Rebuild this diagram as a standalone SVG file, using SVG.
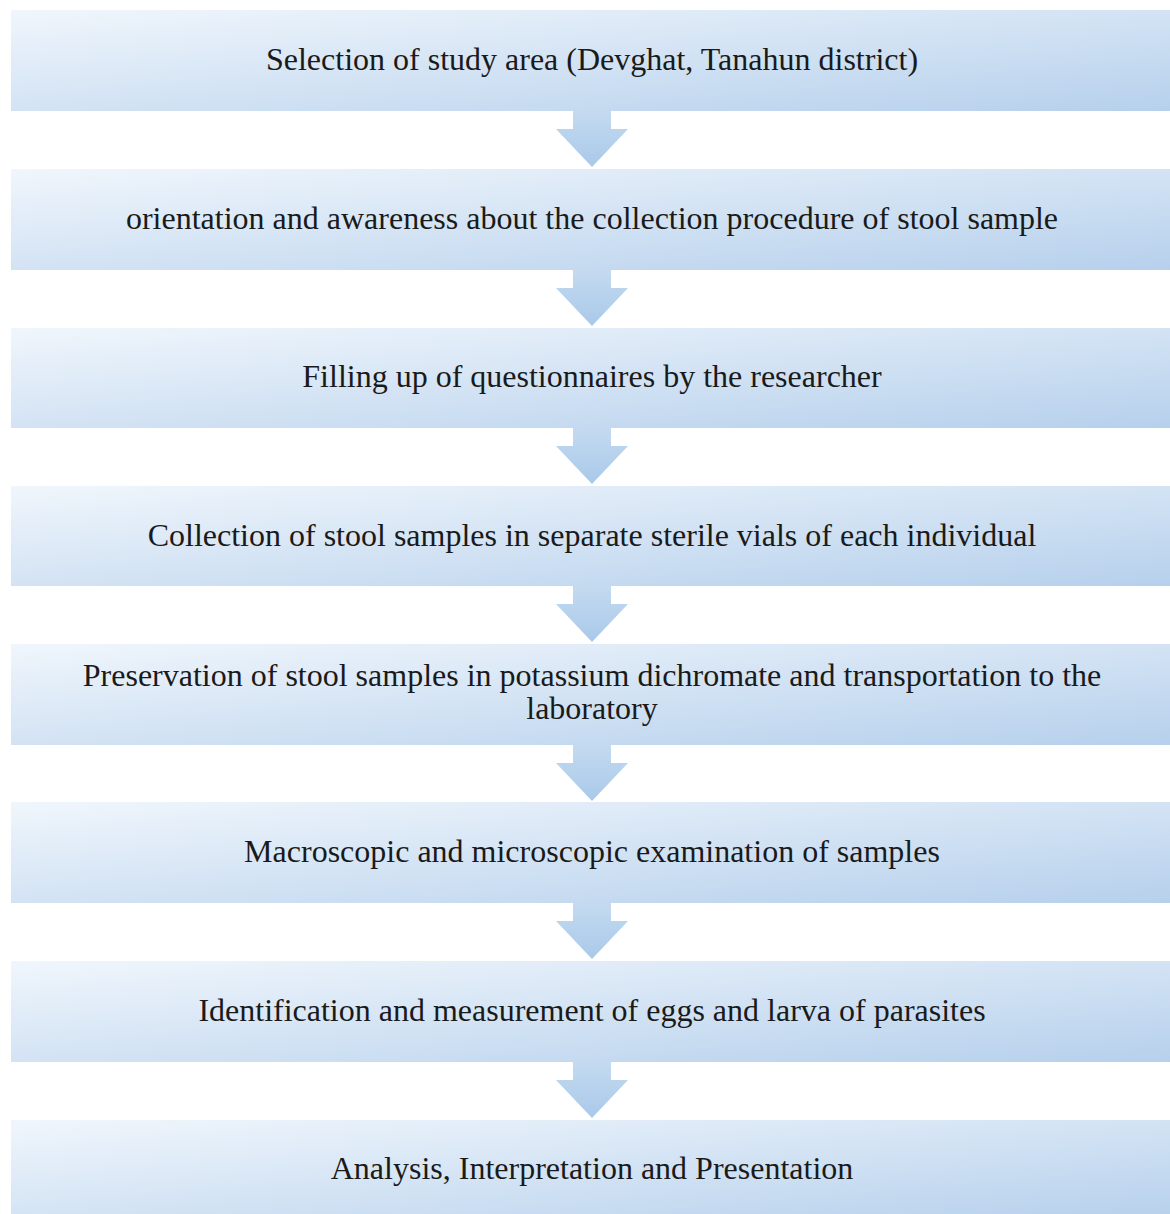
<svg xmlns="http://www.w3.org/2000/svg" width="1170" height="1214" viewBox="0 0 1170 1214">
<defs>
<linearGradient id="bg" x1="0" y1="0" x2="1" y2="1">
<stop offset="0" stop-color="#f0f6fc"/>
<stop offset="0.5" stop-color="#d3e3f4"/>
<stop offset="1" stop-color="#b6d0ec"/>
</linearGradient>
<linearGradient id="ag" x1="0" y1="0" x2="0" y2="1">
<stop offset="0" stop-color="#c4daf0"/>
<stop offset="1" stop-color="#a9c9e9"/>
</linearGradient>
<style>
.box{fill:url(#bg);}
.arr{fill:url(#ag);}
.t{font-family:"Liberation Serif","Times New Roman",serif;font-size:32px;fill:#1a1a1a;text-anchor:middle;}
</style>
</defs>
<rect width="1170" height="1214" fill="#ffffff"/>
<g id="connectors">
<polygon class="arr" points="573,111 611,111 611,129 628,129 592,167 556,129 573,129"/>
<polygon class="arr" points="573,270 611,270 611,288 628,288 592,326 556,288 573,288"/>
<polygon class="arr" points="573,428 611,428 611,446 628,446 592,484 556,446 573,446"/>
<polygon class="arr" points="573,586 611,586 611,604 628,604 592,642 556,604 573,604"/>
<polygon class="arr" points="573,745 611,745 611,763 628,763 592,801 556,763 573,763"/>
<polygon class="arr" points="573,903 611,903 611,921 628,921 592,959 556,921 573,921"/>
<polygon class="arr" points="573,1062 611,1062 611,1080 628,1080 592,1118 556,1080 573,1080"/>
</g>
<g id="n1"><rect class="box" x="11" y="10" width="1165" height="101"/><text class="t" x="592" y="70">Selection of study area (Devghat, Tanahun district)</text></g>
<g id="n2"><rect class="box" x="11" y="169" width="1165" height="101"/><text class="t" x="592" y="229">orientation and awareness about the collection procedure of stool sample</text></g>
<g id="n3"><rect class="box" x="11" y="328" width="1165" height="100"/><text class="t" x="592" y="387">Filling up of questionnaires by the researcher</text></g>
<g id="n4"><rect class="box" x="11" y="486" width="1165" height="100"/><text class="t" x="592" y="546">Collection of stool samples in separate sterile vials of each individual</text></g>
<g id="n5"><rect class="box" x="11" y="644" width="1165" height="101"/><text class="t" x="592" y="686">Preservation of stool samples in potassium dichromate and transportation to the</text><text class="t" x="592" y="719">laboratory</text></g>
<g id="n6"><rect class="box" x="11" y="802" width="1165" height="101"/><text class="t" x="592" y="862">Macroscopic and microscopic examination of samples</text></g>
<g id="n7"><rect class="box" x="11" y="961" width="1165" height="101"/><text class="t" x="592" y="1021">Identification and measurement of eggs and larva of parasites</text></g>
<g id="n8"><rect class="box" x="11" y="1120" width="1165" height="100"/><text class="t" x="592" y="1179">Analysis, Interpretation and Presentation</text></g>
</svg>
